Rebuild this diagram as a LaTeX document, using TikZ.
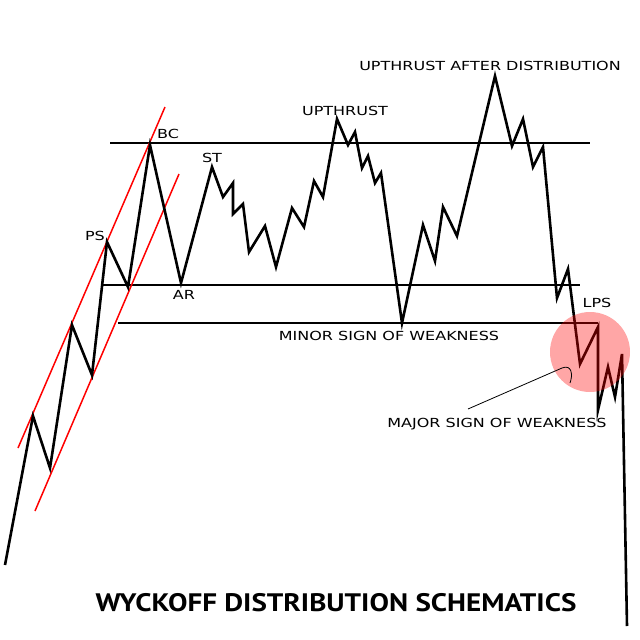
\documentclass[tikz,border=0pt]{standalone}
\usepackage{fontspec}
\setmainfont{DejaVu Sans}
\newfontfamily\titlefont{PT Sans}
\usetikzlibrary{positioning}

\tikzset{
  price/.style={line width=2.6pt, line join=miter, black},
  level/.style={line width=1.6pt, black},
  channel/.style={line width=1.5pt, red},
  tag/.style={font=\addfontfeature{FakeStretch=1.28}\fontsize{12.5}{14}\selectfont, inner sep=0pt}
}

\begin{document}
\begin{tikzpicture}[x=1pt, y=-1pt]
\useasboundingbox (0,0) rectangle (640,640);

% Trading range levels
\draw[level] (110,143) -- (590,143);
\draw[level] (102,285) -- (580,285);
\draw[level] (118,323) -- (598,323);

% Uptrend channel
\draw[channel] (18,448) -- (165,107);
\draw[channel] (35,511) -- (179,174);

% Price path
\draw[price] (5,565) -- (33,416) -- (50,468) -- (72,325) -- (92,375)
  -- (107,242) -- (128,287) -- (150,145) -- (181,283) -- (212,167)
  -- (223,197) -- (233,183) -- (233,214) -- (243,204) -- (249,252)
  -- (265,226) -- (276,267) -- (292,208) -- (304,227) -- (314,181)
  -- (323,197) -- (337,119) -- (348,145) -- (355,132) -- (362,168)
  -- (368,156) -- (375,183) -- (381,173) -- (402,323) -- (423,225)
  -- (435,261) -- (443,207) -- (457,236) -- (495,76) -- (512,146)
  -- (523,119) -- (533,167) -- (543,147) -- (557,298) -- (568,269)
  -- (580,364) -- (598,327) -- (598,410) -- (608,367) -- (615,397)
  -- (622,354) -- (627,626);

% Major sign of weakness highlight
\node[circle, minimum size=80pt, fill=red, fill opacity=0.35, inner sep=0pt] (msow) at (590,352) {};
\coordinate (hook) at (562,368);
\coordinate (hookend) at (570,383);

% Labels
\node[tag] (bc) at (168,134) {BC};
\node[tag] (st) at (212,158) {ST};
\node[tag] (ps) at (95,236) {PS};
\node[tag] (ar) at (184,295) {AR};
\node[tag] (ut) at (345,111) {UPTHRUST};
\node[tag] (utad) at (490,66) {UPTHRUST AFTER DISTRIBUTION};
\node[tag] (lps) at (597,303) {LPS};
\node[tag] (minor) at (389,336) {MINOR SIGN OF WEAKNESS};
\node[tag] (major) at (497,424) {MAJOR SIGN OF WEAKNESS};

\draw[line width=0.8pt] (468,409) -- (hook) .. controls (572,364) and (573,375) .. (hookend);

% Title
\node[font=\titlefont\bfseries\addfontfeature{FakeStretch=1.15}\fontsize{25.3}{28}\selectfont, inner sep=0pt] (title) at (336,603) {WYCKOFF DISTRIBUTION SCHEMATICS};
\end{tikzpicture}
\end{document}
